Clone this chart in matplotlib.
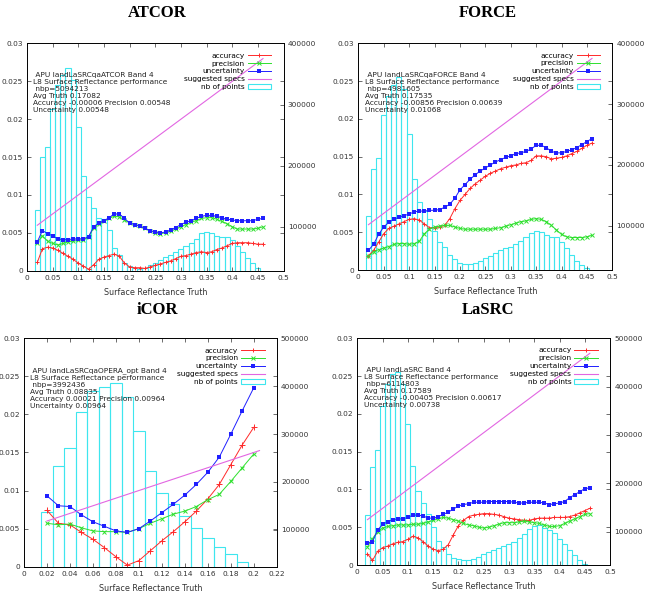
import matplotlib
matplotlib.use('Agg')
import matplotlib.pyplot as plt
from matplotlib.patches import Patch
from matplotlib.lines import Line2D
from matplotlib.ticker import FormatStrFormatter

# %% data

titles = ['ATCOR', 'FORCE', 'iCOR', 'LaSRC']

# curve abscissa (surface reflectance truth)
x_full = [0.02, 0.03, 0.04, 0.05, 0.06, 0.07, 0.08, 0.09, 0.10, 0.11, 0.12,
          0.13, 0.14, 0.15, 0.16, 0.17, 0.18, 0.19, 0.20, 0.21, 0.22, 0.23,
          0.24, 0.25, 0.26, 0.27, 0.28, 0.29, 0.30, 0.31, 0.32, 0.33, 0.34,
          0.35, 0.36, 0.37, 0.38, 0.39, 0.40, 0.41, 0.42, 0.43, 0.44, 0.45,
          0.46]
x_icor = [0.02, 0.03, 0.04, 0.05, 0.06, 0.07, 0.08, 0.09, 0.10, 0.11, 0.12,
          0.13, 0.14, 0.15, 0.16, 0.17, 0.18, 0.19, 0.20]

# histogram bin centres
bins_full = [0.02, 0.03, 0.04, 0.05, 0.06, 0.07, 0.08, 0.09, 0.10, 0.11, 0.12,
             0.13, 0.14, 0.15, 0.16, 0.17, 0.18, 0.19, 0.20, 0.21, 0.22, 0.23,
             0.24, 0.25, 0.26, 0.27, 0.28, 0.29, 0.30, 0.31, 0.32, 0.33, 0.34,
             0.35, 0.36, 0.37, 0.38, 0.39, 0.40, 0.41, 0.42, 0.43, 0.44, 0.45]
bins_icor = [0.02, 0.03, 0.04, 0.05, 0.06, 0.07, 0.08, 0.09, 0.10, 0.11,
             0.12, 0.13, 0.14, 0.15, 0.16, 0.17, 0.18, 0.19]

# ATCOR
atcor_acc = [0.0011, 0.0029, 0.0031, 0.0030, 0.0027, 0.0023, 0.0019, 0.0015, 0.0010, 0.0006, 0.0002,
             0.0008, 0.0015, 0.0018, 0.0020, 0.0022, 0.0019, 0.0010, 0.0005, 0.0004, 0.0004, 0.0003,
             0.0005, 0.0007, 0.0009, 0.0011, 0.0013, 0.0016, 0.0019, 0.0020, 0.0022, 0.0024, 0.0025,
             0.0024, 0.0025, 0.0028, 0.0030, 0.0033, 0.0036, 0.0037, 0.0037, 0.0037, 0.0036, 0.0035,
             0.0035]
atcor_prec = [0.0037, 0.0046, 0.0039, 0.0036, 0.0034, 0.0036, 0.0038, 0.0039, 0.0040, 0.0041, 0.0044,
              0.0057, 0.0062, 0.0065, 0.0069, 0.0072, 0.0071, 0.0067, 0.0063, 0.0061, 0.0059, 0.0056,
              0.0053, 0.0050, 0.0049, 0.0050, 0.0052, 0.0055, 0.0058, 0.0061, 0.0064, 0.0066, 0.0069,
              0.0070, 0.0070, 0.0068, 0.0065, 0.0062, 0.0058, 0.0055, 0.0055, 0.0055, 0.0055, 0.0056,
              0.0058]
atcor_unc = [0.0038, 0.0053, 0.0049, 0.0046, 0.0042, 0.0041, 0.0041, 0.0042, 0.0042, 0.0042, 0.0045,
             0.0058, 0.0063, 0.0066, 0.0070, 0.0075, 0.0075, 0.0069, 0.0063, 0.0061, 0.0059, 0.0056,
             0.0053, 0.0051, 0.0050, 0.0051, 0.0054, 0.0057, 0.0061, 0.0064, 0.0066, 0.0069, 0.0072,
             0.0073, 0.0073, 0.0072, 0.0070, 0.0068, 0.0067, 0.0066, 0.0066, 0.0066, 0.0066, 0.0068,
             0.0069]
atcor_nb = [127000, 214000, 231000, 293000, 332000, 348000, 360000, 340000, 264000, 183000, 148000,
            131000, 114000, 112000, 94000, 65000, 53000, 40000, 35000, 32000, 30500, 33000,
            37000, 40000, 45000, 50000, 54000, 59000, 64000, 68000, 73000, 80000, 89000,
            91000, 90000, 85000, 84000, 83000, 78000, 68000, 59000, 49000, 40000, 33000]

# FORCE
force_acc = [0.0019, 0.0026, 0.0037, 0.0048, 0.0055, 0.0058, 0.0061, 0.0064, 0.0067, 0.0068, 0.0066,
             0.0061, 0.0056, 0.0056, 0.0057, 0.0059, 0.0068, 0.0081, 0.0092, 0.0100, 0.0108, 0.0114,
             0.0119, 0.0124, 0.0128, 0.0131, 0.0134, 0.0136, 0.0138, 0.0139, 0.0141, 0.0142, 0.0145,
             0.0151, 0.0151, 0.0150, 0.0147, 0.0148, 0.0149, 0.0151, 0.0154, 0.0157, 0.0161, 0.0165,
             0.0168]
force_prec = [0.0018, 0.0024, 0.0027, 0.0029, 0.0031, 0.0034, 0.0035, 0.0035, 0.0034, 0.0035, 0.0038,
              0.0048, 0.0054, 0.0057, 0.0058, 0.0059, 0.0059, 0.0057, 0.0055, 0.0054, 0.0054, 0.0054,
              0.0054, 0.0054, 0.0054, 0.0055, 0.0056, 0.0058, 0.0060, 0.0062, 0.0064, 0.0065, 0.0067,
              0.0068, 0.0067, 0.0064, 0.0059, 0.0053, 0.0047, 0.0044, 0.0043, 0.0043, 0.0043, 0.0044,
              0.0046]
force_unc = [0.0026, 0.0034, 0.0047, 0.0057, 0.0063, 0.0067, 0.0070, 0.0072, 0.0074, 0.0077, 0.0078,
             0.0078, 0.0079, 0.0079, 0.0080, 0.0083, 0.0087, 0.0095, 0.0106, 0.0113, 0.0120, 0.0126,
             0.0131, 0.0135, 0.0139, 0.0143, 0.0146, 0.0149, 0.0151, 0.0154, 0.0155, 0.0157, 0.0160,
             0.0165, 0.0165, 0.0162, 0.0157, 0.0155, 0.0155, 0.0157, 0.0159, 0.0162, 0.0166, 0.0170,
             0.0174]
force_nb = [116500, 193500, 211000, 282000, 313000, 331500, 344000, 325000, 250500, 176000, 139000,
            124000, 111500, 91500, 73000, 65500, 52000, 44500, 38000, 37000, 37000, 38000,
            42000, 47000, 50500, 55500, 60500, 63000, 65500, 69500, 74000, 81500, 88000,
            91500, 89000, 84000, 81500, 81500, 73000, 63000, 52000, 42000, 34500, 29500]

# iCOR
icor_acc = [0.0074, 0.0057, 0.0055, 0.0045, 0.0036, 0.0025, 0.0013, 0.0002, 0.0008, 0.0021,
            0.0034, 0.0046, 0.0059, 0.0073, 0.0089, 0.0108, 0.0134, 0.0160, 0.0183]
icor_prec = [0.0057, 0.0055, 0.0056, 0.0051, 0.0047, 0.0046, 0.0046, 0.0045, 0.0050, 0.0057,
             0.0063, 0.0069, 0.0073, 0.0079, 0.0088, 0.0095, 0.0112, 0.0130, 0.0148]
icor_unc = [0.0093, 0.0080, 0.0079, 0.0068, 0.0059, 0.0053, 0.0047, 0.0045, 0.0050, 0.0060,
            0.0071, 0.0082, 0.0094, 0.0108, 0.0124, 0.0144, 0.0174, 0.0205, 0.0235]
icor_nb = [136500, 233000, 270000, 347000, 389000, 399000, 406000, 378000, 306000,
           223000, 176000, 153000, 129000, 103000, 82000, 65000, 49000, 33500]

# LaSRC
lasrc_acc = [0.0015, 0.0006, 0.0018, 0.0023, 0.0025, 0.0028, 0.0030, 0.0031, 0.0034, 0.0038, 0.0036,
             0.0031, 0.0025, 0.0021, 0.0019, 0.0021, 0.0027, 0.0040, 0.0052, 0.0059, 0.0064, 0.0066,
             0.0067, 0.0068, 0.0068, 0.0067, 0.0066, 0.0064, 0.0062, 0.0061, 0.0060, 0.0059, 0.0059,
             0.0061, 0.0062, 0.0062, 0.0062, 0.0063, 0.0063, 0.0063, 0.0064, 0.0066, 0.0069, 0.0072,
             0.0075]
lasrc_prec = [0.0024, 0.0035, 0.0044, 0.0049, 0.0051, 0.0052, 0.0053, 0.0053, 0.0053, 0.0054, 0.0054,
              0.0055, 0.0057, 0.0059, 0.0061, 0.0063, 0.0062, 0.0060, 0.0058, 0.0055, 0.0053, 0.0052,
              0.0050, 0.0049, 0.0050, 0.0052, 0.0054, 0.0056, 0.0056, 0.0056, 0.0057, 0.0058, 0.0057,
              0.0056, 0.0055, 0.0053, 0.0051, 0.0051, 0.0052, 0.0055, 0.0058, 0.0061, 0.0064, 0.0067,
              0.0068]
lasrc_unc = [0.0029, 0.0031, 0.0046, 0.0054, 0.0057, 0.0060, 0.0061, 0.0061, 0.0063, 0.0066, 0.0066,
             0.0065, 0.0062, 0.0062, 0.0064, 0.0067, 0.0070, 0.0074, 0.0078, 0.0080, 0.0081, 0.0083,
             0.0083, 0.0083, 0.0084, 0.0084, 0.0084, 0.0084, 0.0084, 0.0083, 0.0082, 0.0082, 0.0083,
             0.0083, 0.0083, 0.0082, 0.0080, 0.0081, 0.0082, 0.0084, 0.0089, 0.0093, 0.0097, 0.0101,
             0.0102]
lasrc_nb = [134000, 234000, 269000, 359000, 406000, 425000, 430000, 406000, 322000, 236000, 184000,
            159000, 137000, 109000, 81000, 68500, 54500, 46500, 43500, 42000, 42000, 43500,
            48000, 53000, 57500, 62000, 65500, 70000, 75000, 79500, 86000, 95000, 106000,
            111000, 114000, 108000, 103000, 97000, 84000, 75000, 62000, 51000, 42000, 34000]

# suggested specs end points
spec_full_x = [0.02, 0.46]
spec_full_y = [0.006, 0.028]
spec_icor_x = [0.02, 0.205]
spec_icor_y = [0.006, 0.01525]

info_lines = [
    ' APU landLaSRCqaATCOR Band 4\nL8 Surface Reflectance performance\n nbp=5094213\n'
    'Avg Truth 0.17082\nAccuracy -0.00006 Precision 0.00548\nUncertainty 0.00548',
    ' APU landLaSRCqaFORCE Band 4\nL8 Surface Reflectance performance\n nbp=4981605\n'
    'Avg Truth 0.17535\nAccuracy -0.00856 Precision 0.00639\nUncertainty 0.01068',
    ' APU landLaSRCqaOPERA_opt Band 4\nL8 Surface Reflectance performance\n nbp=3992436\n'
    'Avg Truth 0.08835\nAccuracy 0.00021 Precision 0.00964\nUncertainty 0.00964',
    ' APU landLaSRC Band 4\nL8 Surface Reflectance performance\n nbp=6114803\n'
    'Avg Truth 0.17589\nAccuracy -0.00405 Precision 0.00617\nUncertainty 0.00738',
]

# %% style

c_acc = '#ff2a2a'
c_prec = '#2ee02e'
c_unc = '#2020ff'
c_spec = '#e266e2'
c_hist = '#3ee6ee'
fs_tick = 5.3
fs_txt = 5.3

plt.rcParams['font.family'] = 'DejaVu Sans'

fig = plt.figure(figsize=(6.51, 5.95), dpi=100)

# [left, bottom, width, height], x limit, x tick step, y2 range, y2 ticks
panels = [
    ([0.0415, 0.545, 0.394, 0.382], 0.5, 0.05, (28000, 400000), [100000, 200000, 300000, 400000]),
    ([0.5504, 0.5462, 0.3902, 0.381], 0.5, 0.05, (27000, 400000), [100000, 200000, 300000, 400000]),
    ([0.0369, 0.0476, 0.3882, 0.3839], 0.22, 0.02, (23000, 500000), [100000, 200000, 300000, 400000, 500000]),
    ([0.5489, 0.0504, 0.3882, 0.3812], 0.5, 0.05, (31000, 500000), [100000, 200000, 300000, 400000, 500000]),
]

curves = [
    (x_full, atcor_acc, atcor_prec, atcor_unc, bins_full, atcor_nb, spec_full_x, spec_full_y),
    (x_full, force_acc, force_prec, force_unc, bins_full, force_nb, spec_full_x, spec_full_y),
    (x_icor, icor_acc, icor_prec, icor_unc, bins_icor, icor_nb, spec_icor_x, spec_icor_y),
    (x_full, lasrc_acc, lasrc_prec, lasrc_unc, bins_full, lasrc_nb, spec_full_x, spec_full_y),
]

title_pos = [(0.242, 0.978), (0.750, 0.978), (0.242, 0.479), (0.750, 0.479)]

for i in range(4):
    rect, xmax, xstep, y2lim, y2ticks = panels[i]
    xs, acc, prec, unc, bins, nb, sx, sy = curves[i]

    ax = fig.add_axes(rect)
    ax2 = ax.twinx()

    ax2.bar(bins, nb, width=0.01, fill=False, edgecolor=c_hist, linewidth=0.8)
    ax2.set_ylim(*y2lim)
    ax2.set_yticks(y2ticks)
    ax2.yaxis.set_major_formatter(FormatStrFormatter('%d'))

    # curves above the histogram
    ax.set_zorder(ax2.get_zorder() + 1)
    ax.patch.set_visible(False)

    ms = 3 if i == 2 else 2.3
    ax.plot(xs, acc, color=c_acc, lw=0.7, marker='+', ms=ms + 0.8, mew=0.7)
    ax.plot(xs, prec, color=c_prec, lw=0.7, marker='x', ms=ms, mew=0.7)
    ax.plot(xs, unc, color=c_unc, lw=0.7, marker='s', ms=ms, mew=0)
    ax.plot(sx, sy, color=c_spec, lw=0.8)

    ax.set_xlim(0, xmax)
    ax.set_ylim(0, 0.03)
    nt = int(round(xmax / xstep))
    ax.set_xticks([k * xstep for k in range(nt + 1)])
    ax.set_yticks([0, 0.005, 0.01, 0.015, 0.02, 0.025, 0.03])
    ax.xaxis.set_major_formatter(FormatStrFormatter('%g'))
    ax.yaxis.set_major_formatter(FormatStrFormatter('%g'))

    for a in (ax, ax2):
        a.tick_params(direction='in', length=3, width=0.5, labelsize=fs_tick,
                      colors='#333333', pad=3)
        for sp in a.spines.values():
            sp.set_linewidth(0.6)
    ax.tick_params(top=True, right=True)

    ax.set_xlabel('Surface Reflectance Truth', fontsize=5.8, color='#333333', labelpad=5)

    ax.text(0.025, 0.875, info_lines[i], transform=ax.transAxes, fontsize=fs_txt,
            va='top', ha='left', linespacing=1.2, color='#222222')

    handles = [
        Line2D([], [], color=c_acc, lw=0.7, marker='+', ms=3, mew=0.7),
        Line2D([], [], color=c_prec, lw=0.7, marker='x', ms=2.5, mew=0.7),
        Line2D([], [], color=c_unc, lw=0.7, marker='s', ms=2.2, mew=0),
        Line2D([], [], color=c_spec, lw=0.8),
        Patch(facecolor='none', edgecolor=c_hist, linewidth=0.8),
    ]
    labels = ['accuracy', 'precision', 'uncertainty', 'suggested specs', 'nb of points']
    ax.legend(handles, labels, loc='upper right', frameon=False, fontsize=fs_txt,
              markerfirst=False, handlelength=3.2, handleheight=0.6, labelspacing=0.25,
              handletextpad=0.4, borderaxespad=0.4, bbox_to_anchor=(0.975, 0.985))

    fig.text(title_pos[i][0], title_pos[i][1], titles[i], ha='center', va='center',
             fontsize=12, fontweight='bold', family='Liberation Serif')

fig.savefig('out.png', dpi=100)
